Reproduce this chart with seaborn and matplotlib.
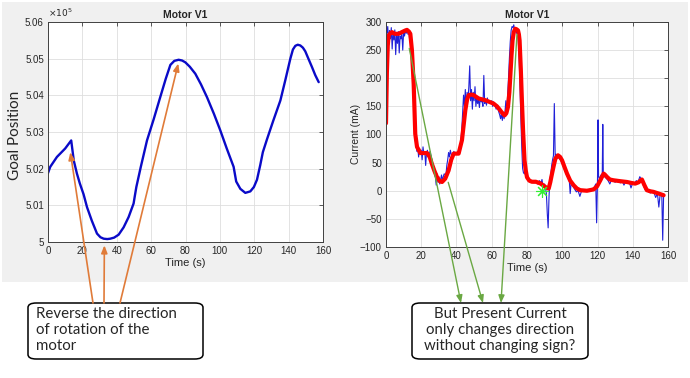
import pandas as pd
import seaborn as sns
import matplotlib.pyplot as plt
from matplotlib.patches import FancyBboxPatch, Rectangle, ConnectionPatch
from matplotlib.ticker import FuncFormatter

# Goal position (x1e5) against time (s)
goal_position = [
    (0, 5.0188), (1.3, 5.0205), (5.2, 5.0232), (10, 5.0255), (13.5, 5.0277),
    (15, 5.0222), (16.8, 5.0187), (18.5, 5.0160), (20.7, 5.0130), (22.7, 5.0095),
    (25.5, 5.0058), (28.5, 5.0023), (30.5, 5.0013), (32.4, 5.0009), (34.5, 5.0008),
    (36.2, 5.0009), (38.5, 5.0012), (41.1, 5.0020), (44, 5.0040), (46.9, 5.0068),
    (49.8, 5.0105), (50.5, 5.0125), (51.4, 5.0150), (54, 5.0205), (57.6, 5.0277),
    (61.5, 5.0335), (65.3, 5.0395), (68.5, 5.0445), (71.2, 5.0483), (73.5, 5.0494),
    (76, 5.0497), (78, 5.0495), (79.9, 5.0490), (82.5, 5.0478), (85.7, 5.0459),
    (89, 5.0430), (92.5, 5.0395), (96.5, 5.0350), (100.2, 5.0305), (104, 5.0255),
    (108, 5.0205), (109.5, 5.0165), (111.9, 5.0145), (114.8, 5.0134), (117.7, 5.0138),
    (119.8, 5.0150), (121.6, 5.0170), (123.5, 5.0210), (125, 5.0245), (127.4, 5.0280),
    (131, 5.0330), (135.2, 5.0386), (138, 5.0440), (141, 5.0500), (142.5, 5.0525),
    (143.9, 5.0535), (145.3, 5.0538), (146.8, 5.0536), (148.3, 5.0530), (149.7, 5.0520),
    (151.5, 5.0500), (153.6, 5.0477), (155.5, 5.0455), (157.5, 5.0436),
]

# Present current (mA), raw samples
current_raw = [
    (0, 295), (0.5, 280), (1, 292), (1.5, 262), (2, 285), (2.5, 270), (3, 290),
    (3.5, 252), (4, 282), (4.5, 268), (5, 286), (5.5, 242), (6, 278), (6.5, 262),
    (7, 283), (7.5, 245), (8, 275), (8.5, 270), (9, 280), (9.5, 250), (10, 282),
    (10.5, 275), (11, 285), (11.5, 280), (12, 287), (12.5, 278), (13, 283),
    (13.5, 265), (14, 275), (14.5, 268), (15, 255), (15.5, 200), (16, 140),
    (16.5, 90), (17, 85), (17.5, 70), (18, 78), (18.5, 60), (19, 75), (19.5, 68),
    (20, 72), (20.5, 55), (21, 78), (21.5, 65), (22, 70), (22.5, 45), (23, 68),
    (23.5, 72), (24, 60), (24.5, 66), (25, 70), (25.5, 62), (26, 55), (26.5, 48),
    (27, 40), (27.5, 30), (28, 25), (28.5, 10), (29, 30), (29.5, 15), (30, 25),
    (30.5, 12), (31, 20), (31.5, 28), (32, 18), (32.5, 25), (33, 30), (34, 28),
    (34.5, 45), (35, 55), (35.5, 68), (36, 60), (36.5, 72), (37, 65), (38, 62),
    (38.5, 70), (39, 64), (40, 68), (41, 65), (42, 68), (42.5, 90), (43, 110),
    (43.5, 140), (44, 170), (44.5, 150), (45, 180), (45.5, 140), (46, 175),
    (46.5, 160), (47, 185), (47.5, 222), (48, 160), (48.5, 180), (49, 145),
    (49.5, 175), (50, 160), (50.5, 185), (51, 150), (51.5, 165), (52, 155),
    (52.5, 162), (53, 148), (53.5, 165), (54, 158), (54.5, 160), (55, 150),
    (55.5, 205), (56, 155), (56.5, 162), (57, 152), (57.5, 165), (58, 158),
    (59, 155), (60, 160), (60.5, 150), (61, 158), (62, 150), (62.5, 145),
    (63, 152), (64, 140), (64.5, 135), (65, 128), (65.5, 138), (66, 125),
    (66.5, 140), (67, 128), (67.5, 140), (68, 160), (68.5, 135), (69, 170),
    (69.5, 200), (70, 235), (70.5, 265), (71, 285), (71.5, 292), (72, 290),
    (72.5, 295), (73, 285), (73.5, 290), (74, 280), (74.5, 283), (75, 270),
    (75.5, 240), (76, 190), (76.5, 130), (77, 80), (77.5, 40), (78, 32),
    (78.5, 30), (79, 35), (79.5, 33), (80, 30), (80.5, 25), (81, 20), (82, 15),
    (83, 18), (84, 14), (85, 16), (86, 12), (87, 18), (88, 14), (88.5, 20),
    (89, 10), (89.5, 8), (90, 12), (90.5, 5), (91, -5), (91.5, -40), (92, -66),
    (92.5, -10), (93, 20), (93.5, 30), (94, 45), (94.5, 55), (95, 62), (95.5, 155),
    (96, 60), (96.5, 65), (97, 60), (97.5, 63), (98, 58), (99, 55), (100, 48),
    (101, 40), (102, 32), (103, 25), (104, 18), (104.5, -5), (105, 12), (106, 8),
    (107, 3), (108, -2), (109, 0), (110, -10), (111, 0), (112, 2), (113, -1),
    (114, 1), (115, 0), (116, 2), (117, 4), (118, 5), (119, 12), (119.5, -57),
    (120, 20), (120.3, 126), (120.6, 25), (121, 22), (122, 28), (122.7, 30),
    (123, 118), (123.3, 30), (124, 25), (125, 22), (126, 18), (127, 12),
    (128, 20), (129, 18), (130, 15), (131, 20), (132, 16), (133, 14), (134, 18),
    (135, 10), (136, 16), (137, 14), (138, 16), (139, 5), (140, 14), (141, 12),
    (142, 18), (143, 15), (144, 25), (145, 20), (146, 10), (147, 2), (148, 0),
    (149, -2), (150, -4), (151, -1), (152, -3), (153, -12), (154, -5),
    (154.8, -29), (155.5, -8), (156, -5), (156.5, -10), (157, -88), (157.5, -8),
]

# Present current (mA), smoothed
current_smooth = [
    (0, 120), (0.5, 210), (1, 258), (1.5, 276), (2.5, 280), (3.4, 282), (5, 279),
    (7.2, 279), (9, 282), (11, 285), (11.9, 286), (13, 283), (13.8, 279),
    (14.7, 250), (15.7, 190), (16.6, 101), (17.6, 78), (19.5, 67), (21.5, 67),
    (23.3, 67), (24.8, 60), (26, 48), (27.5, 35), (28.9, 24.5), (30.5, 17),
    (31.8, 15.6), (33.6, 21.5), (35.5, 36), (37, 55), (38.4, 66), (40, 66),
    (41.2, 66), (43.1, 90), (44, 115), (45, 143), (46, 162), (46.9, 170),
    (48.3, 171), (49.7, 170), (52.6, 164), (56.3, 161), (61, 155), (63, 150),
    (64.8, 143), (66, 138), (67.3, 134), (68.3, 138), (69.2, 149), (70, 175),
    (70.5, 202), (71.2, 240), (71.8, 267), (72.5, 282), (73.3, 288), (74.1, 287),
    (74.9, 285), (75.4, 278), (75.8, 267), (76.5, 215), (77.1, 161), (77.8, 105),
    (78.6, 54), (79.3, 36), (80, 24), (81.3, 18), (82.8, 16), (85, 16),
    (87.6, 13), (89, 10), (90.4, 6.7), (92.3, 3.8), (93.2, 15), (94.2, 30.5),
    (95.2, 45), (96.1, 57), (97.6, 63), (98.8, 60), (99.9, 54), (101.3, 42),
    (102.7, 30.5), (104.5, 18), (106.5, 9.7), (108.3, 4), (110.2, 1), (114, 0),
    (117.8, 2.4), (119.8, 8), (121.6, 18.6), (122.6, 25), (123.5, 30.5),
    (124.4, 28), (125.4, 24.5), (127, 20), (129.1, 18.6), (132.9, 17),
    (136.7, 15.6), (139, 14), (141.4, 12.7), (143.3, 15), (145.2, 20),
    (146.6, 10), (148, 1), (150, -1), (151.8, -2), (154.7, -5), (157.5, -8),
]

# where the callout arrows touch the charts
reversal_points = [(13, 5.0245), (32.8, 4.9991), (75.8, 5.0487)]
current_points = [(13.2, 253), (35.3, 15), (74.3, 278)]
zero_point = (88.5, 0)

time_ticks = [0, 20, 40, 60, 80, 100, 120, 140, 160]
goal_ticks = [5.0, 5.01, 5.02, 5.03, 5.04, 5.05, 5.06]
current_ticks = [-100, -50, 0, 50, 100, 150, 200, 250, 300]

goal_df = pd.DataFrame(goal_position, columns=["time", "position"])
raw_df = pd.DataFrame(current_raw, columns=["time", "current"])
smooth_df = pd.DataFrame(current_smooth, columns=["time", "current"])

W, H = 690, 378


def fx(px):
    return px / W


def fy(py):
    return 1 - py / H


sns.set_theme(style="whitegrid")
plt.rcParams["font.family"] = ["Liberation Sans", "DejaVu Sans"]

fig = plt.figure(figsize=(6.9, 3.78), dpi=100)
fig.patch.set_facecolor("white")
# grey figure-window background behind both charts
fig.add_artist(Rectangle((fx(2), fy(282)), fx(686), 280 / H, transform=fig.transFigure,
                         facecolor="#f0f0f0", edgecolor="none", zorder=-10))

ax1 = fig.add_axes([fx(48), fy(242), fx(275), 220 / H])
ax2 = fig.add_axes([fx(386), fy(247), fx(282), 225 / H])


def matlab_style(ax):
    ax.set_facecolor("white")
    for s in ax.spines.values():
        s.set_visible(True)
        s.set_color("#404040")
        s.set_linewidth(0.7)
    ax.grid(True, color="#dedede", linewidth=0.6)
    ax.tick_params(direction="in", length=3, width=0.6, top=True, right=True,
                   labelsize=7, color="#404040", labelcolor="#262626", pad=3)
    ax.set_title("Motor V1", fontsize=7.5, fontweight="bold", pad=3)
    ax.set_xlabel("Time (s)", fontsize=8, labelpad=1, color="#262626")
    ax.set_ylabel("")
    ax.set_xlim(0, 160)
    ax.set_xticks(time_ticks)


sns.lineplot(data=goal_df, x="time", y="position", ax=ax1, color="#0a0ac8",
             linewidth=1.7, sort=False)
matlab_style(ax1)
ax1.set_ylim(5.0, 5.06)
ax1.set_yticks(goal_ticks)
ax1.yaxis.set_major_formatter(FuncFormatter(lambda v, p: f"{v:g}"))
ax1.text(0, 1.012, r"$\times10^{5}$", transform=ax1.transAxes, fontsize=6.5,
         ha="left", va="bottom", color="#262626")

sns.lineplot(data=raw_df, x="time", y="current", ax=ax2, color="#2020d8",
             linewidth=0.8, sort=False)
sns.lineplot(data=smooth_df, x="time", y="current", ax=ax2, color="#ff0000",
             linewidth=3.0, sort=False)
ax2.plot([zero_point[0]], [zero_point[1]], marker=(8, 2, 0), markersize=9,
         markeredgewidth=0.8, color="#33ee33", linestyle="none")
matlab_style(ax2)
ax2.set_ylim(-100, 300)
ax2.set_yticks(current_ticks)

fig.text(fx(15), fy(135), "Goal Position", rotation=90, ha="center", va="center",
         fontsize=11, family=["Lato", "DejaVu Sans"])
fig.text(fx(356), fy(134), "Current (mA)", rotation=90, ha="center", va="center",
         fontsize=7.5, color="#262626")

# callout boxes
box_kw = dict(boxstyle="round,pad=0,rounding_size=0.012", transform=fig.transFigure,
              facecolor="white", edgecolor="black", linewidth=1.1)
fig.add_artist(FancyBboxPatch((fx(28), fy(359)), fx(175), 56 / H, **box_kw))
fig.add_artist(FancyBboxPatch((fx(412), fy(359)), fx(176), 56 / H, **box_kw))

fig.text(fx(36), fy(330), "Reverse the direction\nof rotation of the\nmotor",
         ha="left", va="center", fontsize=10.8, linespacing=1.18,
         family=["Lato", "DejaVu Sans"])
fig.text(fx(500), fy(330), "But Present Current\nonly changes direction\nwithout changing sign?",
         ha="center", va="center", fontsize=10.8, linespacing=1.18,
         family=["Lato", "DejaVu Sans"])

# orange arrows: from the left box up to the reversal points
for start_x, pt in zip([93, 104, 120], reversal_points):
    fig.add_artist(ConnectionPatch(xyA=(fx(start_x), fy(303)), coordsA=fig.transFigure,
                                   xyB=pt, coordsB=ax1.transData,
                                   arrowstyle="-|>,head_length=0.45,head_width=0.18",
                                   mutation_scale=10, color="#e07b39", linewidth=1.2,
                                   shrinkA=0, shrinkB=0, zorder=5))

# green arrows: from the current curve down to the right box
for pt, end_x in zip(current_points, [461, 483, 501]):
    fig.add_artist(ConnectionPatch(xyA=pt, coordsA=ax2.transData,
                                   xyB=(fx(end_x), fy(303)), coordsB=fig.transFigure,
                                   arrowstyle="-|>,head_length=0.45,head_width=0.18",
                                   mutation_scale=10, color="#6aa843", linewidth=1.0,
                                   shrinkA=0, shrinkB=0, zorder=5))

fig.savefig("out.png", dpi=100)
